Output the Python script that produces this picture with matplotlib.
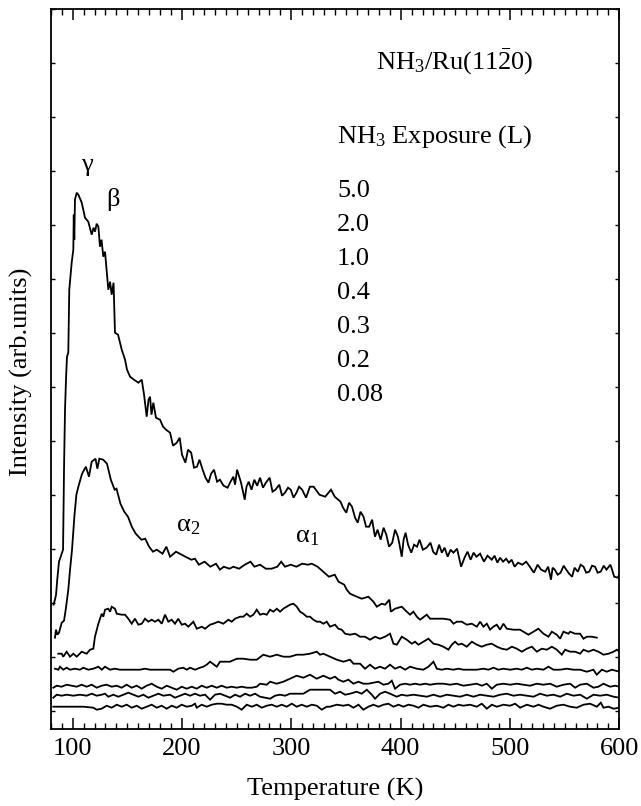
import matplotlib
matplotlib.use('Agg')
import matplotlib.pyplot as plt
import numpy as np
from matplotlib.ticker import MultipleLocator

plt.rcParams['font.family'] = ['Liberation Serif', 'DejaVu Serif']
plt.rcParams['mathtext.fontset'] = 'custom'
plt.rcParams['mathtext.rm'] = 'Liberation Serif'
plt.rcParams['mathtext.it'] = 'Liberation Serif:italic'
plt.rcParams['mathtext.default'] = 'regular'

exposures = ['5.0', '2.0', '1.0', '0.4', '0.3', '0.2', '0.08']

# ---- 5.0 L ----
t_50 = [82.5, 83.8, 84.8, 85.9, 87.5, 89.3, 91.2, 92.1, 93.0, 93.9, 94.8, 96.0, 96.9, 99.1, 100.6, 101.0,
        101.5, 102.1, 103.7, 105.2, 108.3, 111.3, 114.3, 117.4, 119.1, 120.4, 122.0, 123.5, 125.0, 126.4,
        128.0, 129.6, 132.6, 134.2, 135.7, 137.4, 138.7, 141.5, 144.9, 147.9, 149.7, 152.5, 156.1, 160.1,
        163.2, 165.3, 167.7, 169.4, 170.8, 172.1, 173.8, 176.2, 179.9, 182.7, 185.4, 189.1, 191.8, 195.2,
        197.9, 200.0, 203.1, 205.5, 208.4, 211.0, 213.7, 216.0, 218.9, 221.5, 224.2, 226.6, 229.3, 232.1,
        234.7, 238.0, 241.7, 244.4, 247.0, 248.5, 250.4, 254.0, 257.4, 259.0, 261.0, 263.6, 266.2, 268.7,
        271.4, 274.1, 276.7, 280.2, 282.8, 285.5, 289.0, 291.5, 294.2, 297.0, 299.5, 302.0, 304.7, 307.1,
        309.9, 313.5, 317.0, 320.4, 323.1, 325.7, 331.0, 336.3, 339.7, 345.0, 347.3, 350.3, 352.8, 355.5,
        358.3, 360.7, 363.3, 366.0, 368.4, 371.2, 373.9, 376.5, 378.9, 381.7, 384.4, 386.9, 389.4, 392.3,
        394.9, 397.5, 399.0, 401.0, 402.7, 404.5, 406.8, 409.7, 412.3, 415.0, 417.3, 420.3, 423.7, 427.3,
        429.7, 432.5, 435.2, 437.7, 440.2, 443.0, 445.7, 448.3, 451.6, 455.3, 458.8, 461.2, 464.0, 466.7,
        469.3, 472.7, 476.2, 479.5, 483.3, 485.9, 488.5, 491.0, 493.7, 496.5, 499.0, 501.5, 504.2, 507.4,
        511.3, 514.8, 518.2, 521.8, 525.3, 528.5, 532.3, 534.9, 537.5, 539.0, 541.0, 543.6, 546.3, 549.1,
        551.5, 554.1, 556.8, 559.1, 562.1, 564.6, 567.3, 569.7, 572.5, 575.1, 577.8, 580.2, 583.0, 585.7,
        588.3, 591.8, 593.4, 595.3, 598.8, 599.8]
i_50 = [12.4, 12.9, 13.4, 14.9, 16.7, 17.3, 17.9, 26.0, 31.9, 34.9, 37.2, 37.6, 43.9, 46.6, 47.9, 51.4,
        48.9, 52.9, 53.6, 53.4, 52.6, 51.1, 50.7, 49.4, 50.1, 49.7, 50.5, 50.2, 48.2, 48.9,
        47.2, 47.7, 43.9, 44.7, 43.4, 44.6, 39.6, 39.4, 37.9, 36.9, 35.9, 35.2, 34.9, 34.6,
        34.9, 33.4, 31.2, 32.9, 33.2, 31.4, 32.6, 31.1, 30.9, 30.2, 29.9, 29.6, 28.3, 28.6,
        29.1, 27.4, 26.6, 27.9, 27.6, 26.1, 26.2, 26.9, 25.9, 25.1, 24.6, 25.5, 25.9, 24.7,
        24.9, 24.3, 24.1, 24.7, 25.2, 24.4, 25.9, 24.6, 22.9, 24.2, 24.7, 23.9, 24.9, 24.3,
        25.1, 24.1, 24.6, 25.1, 23.7, 23.9, 24.4, 23.3, 23.6, 24.1, 23.9, 23.1, 23.6, 24.2,
        23.9, 23.1, 24.2, 24.2, 23.8, 23.4, 23.2, 23.9, 23.2, 22.7, 22.1, 21.6, 22.6, 22.2,
        21.1, 20.6, 21.7, 21.2, 20.2, 20.2, 20.9, 19.2, 19.9, 18.9, 20.1, 19.4, 18.2, 18.6,
        19.9, 19.2, 18.4, 17.2, 18.9, 19.6, 18.4, 17.6, 18.4, 18.2, 18.9, 17.9, 18.1, 18.6,
        17.7, 17.4, 18.4, 17.6, 18.1, 17.2, 17.9, 17.6, 18.0, 16.2, 17.2, 17.7, 16.9, 17.6,
        17.2, 17.5, 16.7, 17.3, 16.9, 17.3, 16.6, 17.1, 16.7, 17.0, 16.6, 16.9, 16.2, 16.6,
        16.4, 16.7, 16.2, 15.6, 16.4, 15.9, 15.7, 16.2, 14.9, 16.1, 15.9, 15.4, 15.6, 16.3,
        15.9, 15.5, 15.2, 16.1, 15.7, 16.4, 16.2, 15.6, 15.7, 16.3, 16.2, 15.6, 15.7, 16.3,
        15.9, 16.4, 15.9, 15.2, 15.1, 15.4]

# ---- 2.0 L ----
t_20 = [83.8, 84.8, 86.0, 87.5, 90.0, 92.1, 93.9, 96.0, 97.6, 99.4, 101.7, 103.4, 105.2, 108.6, 112.1,
        114.9, 117.4, 120.9, 122.6, 124.4, 127.9, 131.4, 134.9, 138.4, 140.1, 143.7, 147.2, 150.6, 154.1,
        157.7, 162.9, 166.4, 169.9, 173.4, 176.9, 182.2, 185.7, 189.1, 194.5, 197.9, 203.1, 208.5, 211.9,
        215.4, 220.7, 225.9, 231.1, 234.7, 238.2, 243.4, 247.0, 252.2, 257.4, 262.7, 266.2, 271.4, 276.7,
        281.9, 287.2, 290.7, 294.2, 299.5, 304.7, 309.9, 315.2, 318.7, 324.0, 329.2, 334.4, 339.7, 343.2,
        348.4, 350.7, 353.7, 359.9, 364.4, 370.5, 375.1, 378.2, 382.7, 385.8, 389.7, 391.0, 394.9, 401.0,
        405.6, 408.6, 411.7, 414.8, 417.8, 423.9, 426.9, 433.1, 439.1, 445.2, 448.3, 451.4, 455.9, 460.5,
        465.1, 469.7, 472.7, 475.7, 478.8, 481.8, 484.8, 487.9, 490.9, 494.0, 497.1, 503.1, 509.2, 512.3,
        516.9, 521.4, 526.0, 530.6, 535.2, 538.3, 542.8, 545.9, 548.9, 553.5, 555.0, 559.6, 564.2, 567.2,
        570.3, 574.9, 579.4]
i_20 = [9.1, 9.9, 9.4, 9.6, 10.6, 10.8, 12.1, 13.9, 15.9, 17.9, 21.4, 23.4, 24.2, 25.5, 26.2,
        25.2, 26.7, 27.0, 26.0, 27.0, 26.9, 26.5, 24.9, 23.9, 24.0, 22.5, 21.7, 21.2, 20.2,
        19.5, 18.9, 19.0, 18.2, 17.7, 17.9, 17.5, 18.2, 17.2, 17.7, 17.5, 17.2, 16.9, 17.0,
        16.4, 16.7, 16.2, 16.5, 15.9, 16.2, 16.0, 16.2, 16.0, 16.4, 16.7, 16.2, 16.4, 16.0,
        16.0, 16.2, 16.7, 16.2, 16.4, 16.2, 16.5, 16.4, 16.5, 16.2, 15.7, 15.2, 15.4, 14.7,
        14.4, 13.9, 13.5, 13.2, 13.0, 13.2, 12.7, 12.2, 12.5, 12.4, 12.9, 11.7, 12.0, 12.2,
        11.7, 11.4, 11.7, 11.2, 10.9, 11.4, 11.0, 11.0, 11.0, 10.9, 10.5, 10.7, 10.7, 10.4,
        10.5, 10.2, 10.7, 10.2, 10.5, 9.9, 10.2, 10.4, 9.9, 10.5, 10.0, 9.9, 9.9, 9.7,
        9.4, 9.7, 10.0, 9.5, 9.2, 9.7, 9.4, 9.0, 9.7, 9.5, 9.7, 9.5, 9.5, 9.0,
        9.2, 9.2, 9.1]

# ---- 1.0 L ----
t_10 = [86.9, 90.0, 91.4, 94.5, 97.6, 100.6, 103.7, 108.3, 112.8, 115.9, 118.9, 120.4, 123.5, 126.6,
        128.0, 129.6, 132.6, 134.2, 135.7, 138.7, 140.3, 144.9, 147.9, 150.9, 154.0, 157.0, 160.1, 163.2,
        166.2, 169.2, 172.3, 175.3, 178.4, 181.5, 184.5, 187.5, 190.6, 193.6, 196.6, 199.8, 202.8, 205.8,
        210.4, 213.5, 218.1, 221.1, 225.7, 228.7, 233.2, 237.8, 242.4, 245.5, 248.5, 253.1, 256.1, 259.2,
        262.3, 265.3, 268.4, 271.4, 274.4, 277.5, 280.5, 283.6, 286.7, 289.7, 292.7, 295.8, 298.8, 301.9,
        305.0, 308.0, 311.0, 314.1, 317.1, 320.2, 323.3, 326.3, 329.3, 332.4, 335.4, 340.0, 343.0, 346.1,
        349.2, 353.7, 358.3, 362.9, 367.4, 372.0, 376.6, 381.1, 385.7, 390.3, 393.4, 396.5, 401.0, 405.6,
        410.2, 413.2, 416.2, 420.8, 425.4, 430.0, 434.5, 439.1, 443.7, 446.8, 449.8, 452.8, 455.9, 460.5,
        465.1, 469.7, 474.2, 478.8, 483.4, 488.0, 492.5, 497.1, 501.7, 506.3, 510.8, 515.4, 520.0, 524.6,
        529.1, 533.7, 538.3, 542.8, 547.4, 550.4, 555.0, 559.6, 564.2, 567.2, 571.8, 576.3, 580.9, 585.5,
        590.1, 594.7, 597.8, 600.2]
i_10 = [7.5, 7.5, 7.2, 7.7, 7.2, 7.5, 7.2, 7.7, 7.5, 7.9, 8.0, 9.2, 10.5, 11.5,
        11.2, 11.9, 12.0, 11.7, 12.2, 12.0, 11.5, 11.4, 11.4, 11.0, 10.5, 11.0, 10.4, 10.5,
        11.0, 10.7, 10.9, 10.7, 10.9, 10.5, 11.4, 10.7, 10.9, 10.5, 11.0, 10.4, 10.5, 10.2,
        10.7, 10.0, 10.2, 10.0, 10.4, 10.5, 10.7, 10.5, 10.9, 10.7, 11.0, 11.2, 11.2, 11.5,
        11.2, 11.4, 11.9, 11.4, 11.5, 11.4, 11.9, 11.7, 12.0, 11.7, 12.0, 12.2, 12.4, 12.5,
        12.2, 11.7, 11.5, 11.2, 11.2, 10.9, 10.7, 10.7, 10.5, 10.7, 10.2, 10.4, 10.0, 9.9,
        9.5, 9.4, 9.5, 9.2, 9.2, 8.9, 9.2, 9.0, 9.2, 9.5, 8.5, 8.4, 9.2, 8.9,
        8.5, 8.7, 8.4, 8.7, 9.0, 8.5, 8.4, 8.2, 7.9, 8.4, 8.7, 8.4, 8.5, 8.2,
        8.7, 8.4, 8.2, 8.4, 8.5, 8.2, 8.0, 7.9, 8.2, 8.0, 7.7, 8.0, 8.2, 7.7,
        8.0, 7.9, 8.2, 7.9, 7.4, 7.9, 7.7, 7.7, 7.5, 7.9, 7.7, 7.9, 7.7, 7.4,
        7.5, 7.7, 7.9, 7.7]

# ---- 0.4 L ----
t_04 = [83.8, 86.9, 88.4, 91.4, 94.5, 97.6, 102.1, 106.7, 109.7, 114.3, 118.9, 123.5, 126.6, 129.6,
        134.2, 138.7, 143.3, 149.4, 155.5, 161.6, 166.2, 170.8, 176.9, 182.9, 189.1, 192.1, 196.6, 201.2,
        204.3, 207.4, 211.9, 216.5, 219.5, 222.6, 225.7, 231.8, 234.8, 243.9, 250.1, 256.1, 262.3, 268.4,
        274.4, 280.5, 286.7, 292.7, 298.8, 305.0, 311.0, 317.1, 323.3, 326.3, 329.3, 335.4, 341.6, 347.6,
        353.7, 356.8, 362.9, 367.4, 372.0, 376.6, 381.1, 385.7, 390.3, 394.9, 399.5, 404.1, 408.6, 414.8,
        420.8, 425.4, 430.0, 433.1, 437.6, 442.2, 448.3, 452.8, 457.4, 463.5, 469.7, 475.7, 480.3, 484.9,
        489.4, 494.0, 500.1, 506.3, 510.8, 515.4, 520.0, 524.6, 530.6, 535.2, 539.7, 545.9, 552.0, 558.0,
        564.2, 570.3, 576.3, 579.4, 584.0, 588.6, 593.2, 600.2]
i_04 = [6.0, 5.9, 6.2, 5.9, 6.1, 5.9, 6.0, 5.9, 6.1, 5.9, 6.0, 6.2, 5.9, 6.2,
        5.9, 6.0, 5.9, 5.9, 5.9, 5.9, 6.0, 5.9, 5.9, 5.9, 5.9, 5.7, 6.0, 6.1,
        5.9, 6.1, 5.9, 6.1, 6.2, 6.4, 6.7, 6.2, 6.7, 6.7, 7.0, 7.0, 6.9, 6.9,
        7.4, 7.2, 7.4, 7.2, 7.2, 7.4, 7.4, 7.5, 7.7, 7.4, 7.5, 7.2, 6.9, 6.7,
        6.9, 6.5, 6.5, 6.0, 6.4, 6.0, 6.2, 6.0, 6.4, 6.0, 6.2, 5.9, 6.2, 6.0,
        5.9, 6.2, 6.7, 6.0, 5.9, 6.0, 5.9, 6.0, 5.9, 5.9, 5.9, 6.0, 5.9, 6.1,
        5.9, 6.0, 5.9, 6.0, 5.9, 6.1, 5.9, 6.0, 5.9, 6.2, 5.9, 5.9, 6.0, 5.9,
        5.9, 5.7, 5.9, 5.4, 5.9, 5.7, 5.9, 5.7]

# ---- 0.3 L ----
t_03 = [82.3, 85.4, 89.9, 94.5, 99.1, 103.7, 108.2, 112.8, 117.4, 122.0, 126.5, 131.1, 135.7, 140.3,
        144.8, 149.4, 154.0, 158.6, 163.1, 167.7, 172.3, 176.9, 181.4, 186.0, 190.6, 195.2, 199.7, 204.3,
        208.9, 213.5, 218.0, 222.6, 227.2, 231.8, 236.3, 240.9, 245.5, 250.1, 254.6, 259.2, 263.8, 268.4,
        271.4, 277.5, 280.6, 286.6, 292.7, 298.8, 304.9, 311.0, 317.1, 323.2, 329.3, 335.4, 340.0, 343.1,
        347.6, 352.2, 356.8, 361.4, 365.9, 370.5, 375.1, 379.7, 384.2, 388.8, 391.9, 394.9, 399.5, 404.1,
        408.6, 413.2, 417.8, 422.4, 426.9, 433.0, 439.1, 445.2, 451.3, 457.4, 463.5, 469.6, 474.2, 478.8,
        483.4, 487.9, 494.0, 500.1, 506.2, 512.3, 518.4, 524.5, 530.6, 536.7, 542.8, 548.9, 555.0, 559.6,
        564.2, 570.3, 576.4, 580.9, 585.5, 591.6, 596.2, 600.2]
i_03 = [4.1, 4.3, 4.2, 4.4, 4.3, 4.2, 4.4, 4.2, 4.4, 4.1, 4.3, 4.4, 4.2, 4.3,
        4.1, 4.4, 4.1, 4.3, 4.0, 4.3, 4.5, 4.2, 4.0, 4.3, 4.1, 3.9, 4.2, 4.0,
        4.2, 4.0, 4.3, 4.1, 4.3, 4.1, 4.3, 4.1, 4.2, 4.1, 4.2, 4.1, 4.1, 4.2,
        4.5, 4.4, 4.7, 4.5, 4.7, 5.0, 5.3, 5.1, 5.4, 5.0, 5.3, 5.0, 5.2, 4.9,
        4.7, 4.9, 4.5, 4.7, 4.5, 4.5, 4.6, 4.7, 4.4, 4.5, 4.8, 4.0, 4.4, 4.5,
        4.4, 4.5, 4.4, 4.5, 4.4, 4.5, 4.5, 4.4, 4.5, 4.3, 4.4, 4.5, 4.3, 4.5,
        4.0, 4.4, 4.5, 4.4, 4.5, 4.4, 4.3, 4.5, 4.4, 4.5, 4.2, 4.4, 4.5, 4.1,
        4.4, 4.5, 4.1, 4.2, 4.5, 4.2, 4.3, 4.2]

# ---- 0.2 L ----
t_02 = [82.3, 85.4, 89.9, 94.5, 100.6, 106.7, 112.8, 117.4, 122.0, 126.5, 129.6, 132.6, 137.2, 141.8,
        146.4, 150.9, 155.5, 160.1, 164.7, 169.2, 173.8, 178.4, 183.0, 189.1, 193.6, 198.2, 202.8, 207.4,
        211.9, 216.5, 221.1, 225.7, 230.2, 234.8, 239.4, 244.0, 248.5, 253.1, 257.7, 262.3, 266.8, 271.4,
        276.0, 280.6, 285.1, 289.7, 294.3, 298.9, 305.0, 311.0, 317.1, 323.2, 329.3, 335.4, 340.0, 344.6,
        349.2, 353.7, 359.8, 364.4, 369.0, 373.6, 376.6, 381.2, 385.8, 390.3, 396.4, 401.0, 405.6, 411.7,
        417.8, 423.9, 430.0, 436.1, 442.2, 448.3, 454.4, 460.5, 466.6, 472.7, 478.8, 484.9, 491.0, 497.1,
        503.2, 509.3, 515.4, 521.5, 527.6, 533.7, 539.8, 545.9, 552.0, 558.1, 564.2, 570.3, 576.4, 582.5,
        588.6, 594.7, 600.2]
i_02 = [3.1, 3.4, 3.3, 3.4, 3.3, 3.4, 3.3, 3.5, 3.3, 3.4, 3.5, 3.2, 3.4, 3.2,
        3.4, 3.6, 3.4, 3.2, 3.4, 3.1, 3.3, 3.5, 3.3, 3.4, 3.1, 3.3, 3.5, 3.3,
        3.5, 3.3, 3.4, 2.9, 3.4, 3.5, 3.3, 3.1, 3.4, 3.2, 3.5, 3.3, 3.5, 3.2,
        3.1, 3.0, 3.3, 3.4, 3.3, 3.5, 3.5, 3.5, 3.9, 3.9, 3.9, 3.9, 3.5, 3.7,
        3.4, 3.5, 3.7, 3.5, 3.9, 3.4, 3.0, 3.5, 3.7, 3.5, 3.2, 3.4, 3.3, 3.4,
        3.3, 3.2, 3.4, 3.2, 3.4, 3.3, 3.2, 3.4, 3.2, 3.4, 3.3, 3.2, 3.4, 3.5,
        3.3, 3.4, 3.3, 3.2, 3.5, 3.3, 3.4, 3.2, 3.5, 3.3, 3.4, 3.0, 3.4, 3.3,
        3.4, 3.2, 3.1]

# ---- 0.08 L ----
t_008 = [82.3, 91.5, 100.6, 109.8, 118.9, 122.0, 126.5, 131.1, 135.7, 140.3, 144.8, 149.4, 154.0, 158.6,
         163.1, 167.7, 172.3, 176.9, 181.4, 186.0, 190.6, 195.2, 199.7, 204.3, 208.9, 211.9, 213.5, 218.0,
         222.6, 227.2, 231.8, 236.3, 240.9, 245.5, 250.1, 254.6, 259.2, 263.8, 268.4, 273.0, 277.5, 282.1,
         286.7, 291.2, 295.8, 300.4, 305.0, 309.5, 314.1, 318.7, 323.3, 327.8, 332.4, 335.4, 341.5, 347.6,
         352.2, 356.8, 361.4, 365.9, 370.5, 375.1, 379.7, 384.2, 388.8, 393.4, 398.0, 402.5, 407.1, 411.7,
         416.3, 420.8, 426.9, 433.0, 439.1, 443.7, 448.3, 452.9, 457.4, 463.5, 469.6, 474.2, 478.8, 483.4,
         487.9, 494.0, 500.1, 504.7, 509.3, 515.4, 521.5, 526.1, 530.6, 536.7, 542.8, 548.9, 555.0, 561.1,
         567.2, 573.3, 579.4, 583.1, 585.5, 590.1, 594.7, 600.2]
i_008 = [2.2, 2.2, 2.2, 2.2, 2.1, 1.9, 2.0, 2.3, 2.1, 2.4, 2.2, 2.4, 2.1, 2.3,
         2.0, 2.2, 2.4, 2.1, 2.3, 2.0, 2.3, 2.1, 2.4, 2.2, 2.3, 2.5, 2.1, 2.4,
         2.2, 2.4, 2.5, 2.5, 2.4, 2.4, 2.2, 1.9, 2.4, 2.2, 2.4, 2.1, 2.3, 2.4,
         2.2, 2.4, 2.2, 2.5, 2.2, 2.4, 2.2, 2.4, 2.3, 1.9, 2.2, 2.2, 2.4, 2.3,
         2.4, 2.1, 2.4, 1.9, 2.2, 2.4, 2.2, 2.4, 2.5, 2.2, 2.4, 2.2, 2.4, 2.3,
         2.1, 2.4, 2.2, 2.3, 2.1, 2.4, 2.2, 2.4, 2.3, 2.4, 2.2, 2.5, 2.0, 2.4,
         2.2, 2.4, 2.3, 2.5, 2.1, 2.4, 2.2, 2.4, 2.2, 2.0, 2.3, 2.4, 2.2, 2.1,
         2.4, 2.5, 2.2, 2.6, 2.1, 2.2, 2.0, 2.1]

series = [(t_50, i_50), (t_20, i_20), (t_10, i_10), (t_04, i_04),
          (t_03, i_03), (t_02, i_02), (t_008, i_008)]

fig = plt.figure(figsize=(6.41, 8.06), dpi=100)
ax = fig.add_axes([50.8 / 641, 1 - 728.7 / 806, (619.3 - 50.8) / 641, (728.7 - 9.3) / 806])

for t, i in series:
    ax.plot(t, i, color='black', lw=1.3, solid_joinstyle='miter')

ax.set_xlim(80, 600)
ax.set_ylim(0, 71.94)
ax.set_xticks([100, 200, 300, 400, 500, 600])
ax.xaxis.set_minor_locator(MultipleLocator(10))
ax.set_yticks(1.74 + 5.4 * np.arange(14))
ax.set_yticklabels([])
ax.tick_params(axis='x', which='major', direction='in', length=8, width=1.1,
               top=True, bottom=True, labelsize=19, pad=7)
ax.tick_params(axis='x', which='minor', direction='in', length=4, width=1.0,
               top=True, bottom=True)
ax.tick_params(axis='y', which='major', direction='in', length=3, width=1.0,
               left=True, right=True)
for s in ax.spines.values():
    s.set_linewidth(1.3)

fig.text(335 / 641, 1 - 796 / 806, 'Temperature (K)', fontsize=19, ha='center', va='baseline')
fig.text(21.7 / 641, 1 - 372 / 806, 'Intensity (arb.units)', fontsize=19, rotation=90,
         ha='center', va='center')

ax.text(377.5, 65.9, 'NH$_3$/Ru(11$\\bar{2}$0)', fontsize=19, va='baseline')
ax.text(341.8, 58.6, 'NH$_3$ Exposure (L)', fontsize=19, va='baseline')
label_base = [53.2, 49.8, 46.4, 43.0, 39.6, 36.2, 32.8]
for lab, yb in zip(exposures, label_base):
    ax.text(341.8, yb, lab, fontsize=19, va='baseline')

ax.text(112.8, 56.4, 'γ', fontsize=19, ha='center', va='center')
ax.text(137.2, 52.9, 'β', fontsize=19, ha='center', va='center')
ax.text(194.5, 19.7, 'α$_2$', fontsize=19, ha='left', va='baseline')
ax.text(303.0, 18.6, 'α$_1$', fontsize=19, ha='left', va='baseline')

fig.savefig('out.png', dpi=100)
